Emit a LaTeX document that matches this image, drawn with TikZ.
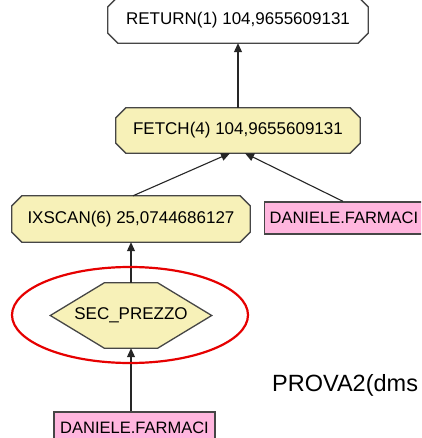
\documentclass[tikz,border=0pt]{standalone}
\usepackage{fontspec}
\setmainfont{Liberation Sans}
\usetikzlibrary{arrows.meta,backgrounds,calc}
\definecolor{ylw}{RGB}{247,241,184}
\definecolor{pnk}{RGB}{255,182,222}
\definecolor{bord}{RGB}{70,70,70}
\definecolor{ringred}{RGB}{230,0,0}
\tikzset{
  box/.style={rectangle, inner sep=0pt, font=\fontsize{17}{20}\selectfont},
  octa/.style={line width=1.3pt, draw=bord},
  tbl/.style={rectangle, draw=bord, line width=1.3pt, fill=pnk, inner xsep=5pt, inner ysep=0pt, minimum height=32pt, font=\fontsize{16.5}{20}\selectfont},
  conn/.style={line width=1.1pt, draw=black!85, -{Triangle[length=9pt,width=8pt]}}
}
\begin{document}
\begin{tikzpicture}[x=1pt,y=-1pt]
\clip (0,0) rectangle (421,438);
% nodes
\node[box, minimum width=260pt, minimum height=46pt] (ret) at (238,20) {RETURN(1) 104,9655609131};
\node[box, minimum width=244pt, minimum height=45pt] (fetch) at (238,130.5) {FETCH(4) 104,9655609131};
\node[box, minimum width=238pt, minimum height=46pt] (ix) at (131,219) {IXSCAN(6) 25,0744686127};
\node[box, minimum width=161pt, minimum height=65pt] (sec) at (131,315.5) {SEC\_PREZZO};
\node[tbl, anchor=west, minimum width=170pt, align=left, text width=160pt] (danr) at (264,218) {DANIELE.FARMACI};
\node[tbl, minimum width=161pt] (danb) at (134.5,428) {DANIELE.FARMACI};
\node[anchor=west, inner sep=0pt, font=\fontsize{23.5}{26}\selectfont] (prova) at (272,385) {PROVA2(dms};
% shapes behind text
\begin{pgfonlayer}{background}
\fill[white] (0,0) rectangle (421,438);
\foreach \n/\c in {ret/white,fetch/ylw,ix/ylw}{
  \filldraw[octa, fill=\c]
   ([xshift=10pt]\n.north west) -- ([xshift=-10pt]\n.north east) --
   ([yshift=-10pt]\n.north east) -- ([yshift=10pt]\n.south east) --
   ([xshift=-10pt]\n.south east) -- ([xshift=10pt]\n.south west) --
   ([yshift=10pt]\n.south west) -- ([yshift=-10pt]\n.north west) -- cycle;
}
\filldraw[octa, fill=ylw]
  (sec.west) -- ([xshift=54pt]sec.north west) -- ([xshift=-54pt]sec.north east) --
  (sec.east) -- ([xshift=-54pt]sec.south east) -- ([xshift=54pt]sec.south west) -- cycle;
\end{pgfonlayer}
% connectors
\draw[conn] (fetch.north) -- (ret.south);
\draw[conn] ($(ix.north)+(2,0)$) -- ($(fetch.south)+(-8,0)$);
\draw[conn] ($(danr.north west)+(79,0)$) -- ($(fetch.south)+(7,0)$);
\draw[conn] (sec.north) -- (ix.south);
\draw[conn] (sec.south |- danb.north) -- (sec.south);
% highlight ring
\draw[ringred, line width=2.2pt] (130,315) ellipse [x radius=118, y radius=48];
\end{tikzpicture}
\end{document}
